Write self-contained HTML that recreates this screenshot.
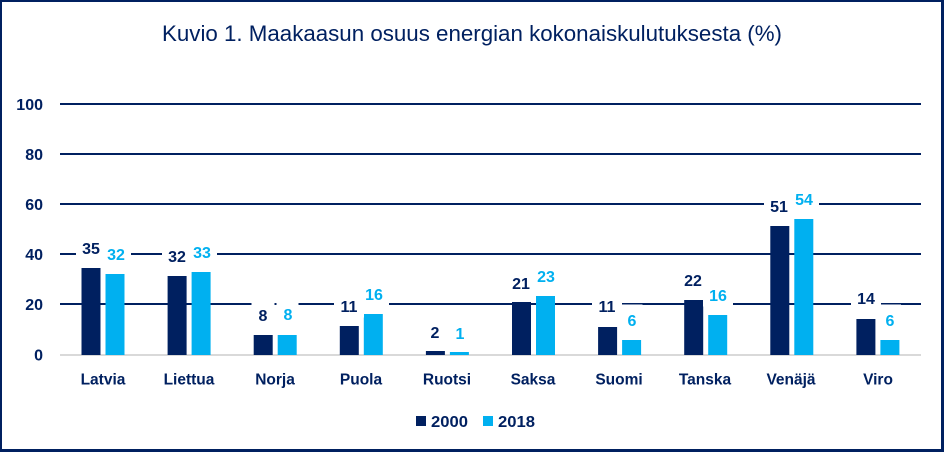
<!DOCTYPE html>
<html><head><meta charset="utf-8"><style>
html,body{margin:0;padding:0;background:#fff;}
svg{display:block;}
text{font-family:"Liberation Sans",sans-serif;}
</style></head><body>
<svg width="944" height="452" viewBox="0 0 944 452" xmlns="http://www.w3.org/2000/svg">
<rect x="0" y="0" width="944" height="452" fill="#fff"/>
<!-- border -->
<rect x="0" y="0" width="944" height="2" fill="#002060"/>
<rect x="0" y="0" width="2" height="452" fill="#002060"/>
<rect x="941" y="0" width="3" height="452" fill="#002060"/>
<rect x="0" y="449" width="944" height="3" fill="#002060"/>
<!-- title -->
<text x="162" y="41" font-size="22" fill="#002060" textLength="620" lengthAdjust="spacingAndGlyphs">Kuvio 1. Maakaasun osuus energian kokonaiskulutuksesta (%)</text>
<!-- gridlines -->
<g fill="#002060">
<rect x="60" y="103" width="861" height="2"/>
<rect x="60" y="153" width="861" height="2"/>
<rect x="60" y="203" width="861" height="2"/>
<rect x="60" y="253" width="861" height="2"/>
<rect x="60" y="303" width="861" height="2"/>
</g>
<rect x="60" y="354" width="861" height="2" fill="#D9D9D9"/>
<!-- y labels -->
<g font-size="16" font-weight="bold" fill="#002060" text-anchor="end">
<text x="43" y="109.8">100</text>
<text x="43" y="159.8">80</text>
<text x="43" y="209.8">60</text>
<text x="43" y="259.8">40</text>
<text x="43" y="309.8">20</text>
<text x="43" y="360.5">0</text>
</g>
<!-- bars dark -->
<g fill="#002060">
<rect x="81.5" y="268" width="19" height="87"/>
<rect x="167.6" y="276" width="19" height="79"/>
<rect x="253.7" y="335" width="19" height="20"/>
<rect x="339.8" y="326" width="19" height="29"/>
<rect x="425.9" y="351" width="19" height="4"/>
<rect x="512" y="302" width="19" height="53"/>
<rect x="598.1" y="327" width="19" height="28"/>
<rect x="684.2" y="300" width="19" height="55"/>
<rect x="770.3" y="226" width="19" height="129"/>
<rect x="856.4" y="319" width="19" height="36"/>
</g>
<!-- bars light -->
<g fill="#00B0F0">
<rect x="105.5" y="274" width="19" height="81"/>
<rect x="191.6" y="272" width="19" height="83"/>
<rect x="277.7" y="335" width="19" height="20"/>
<rect x="363.8" y="314" width="19" height="41"/>
<rect x="449.9" y="352" width="19" height="3"/>
<rect x="536" y="296" width="19" height="59"/>
<rect x="622.1" y="340" width="19" height="15"/>
<rect x="708.2" y="315" width="19" height="40"/>
<rect x="794.3" y="219" width="19" height="136"/>
<rect x="880.4" y="340" width="19" height="15"/>
</g>
<!-- label boxes -->
<g fill="#fff">
<rect x="76" y="232.5" width="30" height="27"/>
<rect x="101" y="238.5" width="30" height="27"/>
<rect x="162" y="240.5" width="30" height="27"/>
<rect x="187" y="236.5" width="30" height="27"/>
<rect x="251.5" y="299.5" width="23" height="27"/>
<rect x="276.5" y="298.5" width="22" height="27"/>
<rect x="334" y="290.5" width="30" height="27"/>
<rect x="359" y="278.5" width="30" height="27"/>
<rect x="423.5" y="316.5" width="23" height="27"/>
<rect x="448.5" y="317.5" width="23" height="27"/>
<rect x="506" y="267.5" width="30" height="27"/>
<rect x="531" y="260.5" width="30" height="27"/>
<rect x="592" y="290.5" width="30" height="27"/>
<rect x="621.5" y="304.5" width="21" height="27"/>
<rect x="678" y="264.5" width="30" height="27"/>
<rect x="703" y="279.5" width="30" height="27"/>
<rect x="764" y="190.5" width="30" height="27"/>
<rect x="789" y="183.5" width="30" height="27"/>
<rect x="851" y="282.5" width="30" height="27"/>
<rect x="880" y="304.5" width="21" height="27"/>
</g>
<!-- data labels -->
<g font-size="16" font-weight="bold" text-anchor="middle">
<g fill="#002060">
<text x="91" y="253.8">35</text>
<text x="177" y="261.8">32</text>
<text x="263" y="320.8">8</text>
<text x="349" y="311.8">11</text>
<text x="435" y="337.8">2</text>
<text x="521" y="288.8">21</text>
<text x="607" y="311.8">11</text>
<text x="693" y="285.8">22</text>
<text x="779" y="211.8">51</text>
<text x="866" y="303.8">14</text>
</g>
<g fill="#00B0F0">
<text x="116" y="259.8">32</text>
<text x="202" y="257.8">33</text>
<text x="288" y="319.8">8</text>
<text x="374" y="299.8">16</text>
<text x="460" y="338.8">1</text>
<text x="546" y="281.8">23</text>
<text x="632" y="325.8">6</text>
<text x="718" y="300.8">16</text>
<text x="804" y="204.8">54</text>
<text x="890" y="325.8">6</text>
</g>
</g>
<!-- category labels -->
<g font-size="15.5" font-weight="bold" fill="#002060" text-anchor="middle">
<text x="103" y="384.6">Latvia</text>
<text x="189" y="384.6">Liettua</text>
<text x="275" y="384.6">Norja</text>
<text x="361" y="384.6">Puola</text>
<text x="447" y="384.6">Ruotsi</text>
<text x="533" y="384.6">Saksa</text>
<text x="619" y="384.6">Suomi</text>
<text x="705" y="384.6">Tanska</text>
<text x="791" y="384.6">Venäjä</text>
<text x="878" y="384.6">Viro</text>
</g>
<!-- legend -->
<rect x="416" y="416" width="10" height="10" fill="#002060"/>
<rect x="483" y="416" width="10" height="10" fill="#00B0F0"/>
<g font-size="16" font-weight="bold" fill="#002060">
<text x="431" y="426.8" textLength="37" lengthAdjust="spacingAndGlyphs">2000</text>
<text x="498" y="426.8" textLength="37" lengthAdjust="spacingAndGlyphs">2018</text>
</g>
</svg>
</body></html>
